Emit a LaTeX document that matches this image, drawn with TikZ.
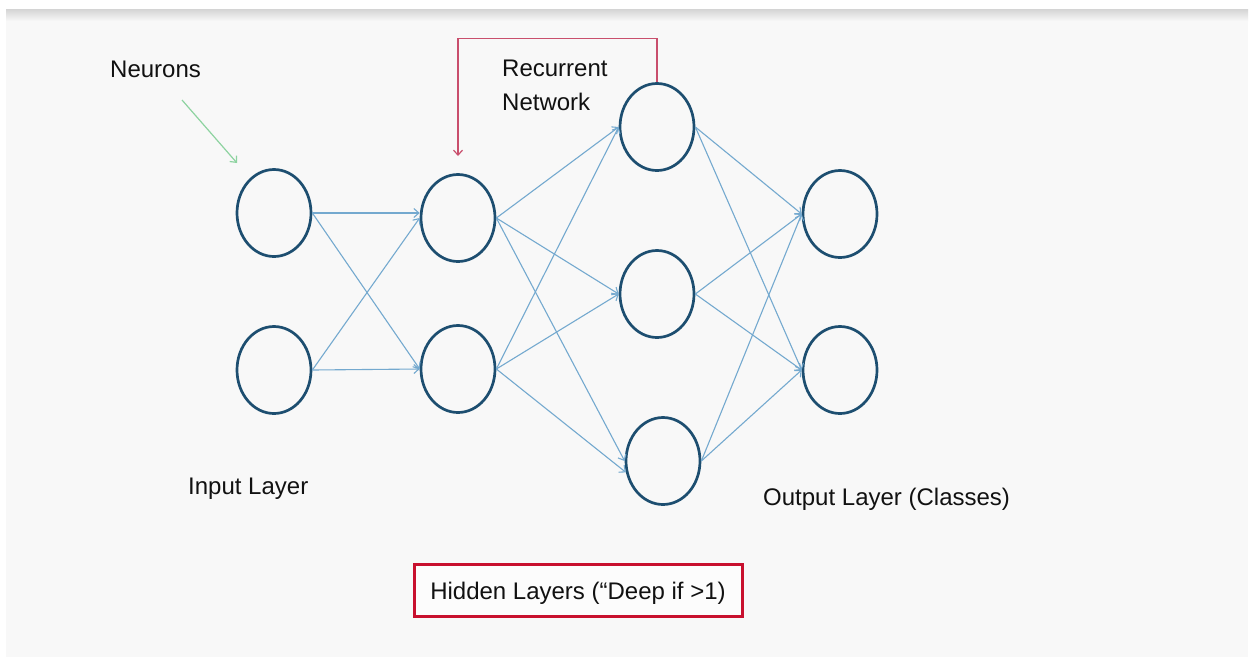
\documentclass[tikz,border=0pt]{standalone}
\usepackage{fontspec}
\setmainfont{Liberation Sans}
\usetikzlibrary{shapes.geometric,arrows.meta}

\definecolor{panel}{HTML}{F8F8F8}
\definecolor{panelshadow}{HTML}{D4D4D4}
\definecolor{neuronblue}{HTML}{1D4E70}
\definecolor{linkblue}{HTML}{74A9CF}
\definecolor{pointgreen}{HTML}{8DD3A0}
\definecolor{loopred}{HTML}{C94F6D}
\definecolor{boxred}{HTML}{C8102E}
\definecolor{labelgray}{HTML}{111111}

\tikzset{
  neuron/.style={ellipse, draw=neuronblue, line width=2.7pt,
    minimum width=74pt, minimum height=87pt, inner sep=0pt},
  link/.style={draw=linkblue, line width=1.1pt,
    -{Straight Barb[length=5pt,width=9pt]}},
  label/.style={font=\fontsize{24}{34}\selectfont, text=labelgray, inner sep=0pt},
  hint/.style={line width=1.2pt, -{Straight Barb[length=5pt,width=9pt]}}
}

\begin{document}
\begin{tikzpicture}[x=1pt,y=-1pt]
  % page and panel with its top shadow
  \useasboundingbox (0,0) rectangle (1252,657);
  \fill[white] (0,0) rectangle (1252,657);
  \fill[panel] (6,9) rectangle (1248,657);
  \shade[top color=panelshadow, bottom color=panel] (6,9) rectangle (1248,21);

  % neurons
  \node[neuron] (i1) at (274,213) {};
  \node[neuron] (i2) at (274,370) {};
  \node[neuron] (h1) at (458,218) {};
  \node[neuron] (h2) at (458,369) {};
  \node[neuron] (k1) at (657,127) {};
  \node[neuron] (k2) at (657,294) {};
  \node[neuron] (k3) at (663,461) {};
  \node[neuron] (o1) at (840,214) {};
  \node[neuron] (o2) at (840,370) {};

  % input layer to first hidden layer
  \draw[link] (i1.east) -- (h1.west |- i1.east);
  \draw[link] (i1.east) -- (h2.west);
  \draw[link] (i2.east) -- (h1.west);
  \draw[link] (i2.east) -- (h2.west);

  % first hidden layer to second hidden layer
  \draw[link] (h1.east) -- (k1.west);
  \draw[link] (h1.east) -- (k2.west);
  \draw[link] (h1.east) -- (k3.west);
  \draw[link] (h2.east) -- (k1.west);
  \draw[link] (h2.east) -- (k2.west);
  \draw[link] (h2.east) -- (k3.197);

  % second hidden layer to output layer
  \foreach \s in {k1,k2,k3}{
    \draw[link] (\s.east) -- (o1.west);
    \draw[link] (\s.east) -- (o2.west);
  }

  % recurrent loop back to the first hidden layer
  \coordinate (loopend) at (458,156);
  \draw[hint, draw=loopred] (k1.north) -- ++(0,-44) -| (loopend);

  % pointer to a neuron
  \coordinate (pointstart) at (182,100);
  \draw[hint, draw=pointgreen] (pointstart) -- (237,163);

  % labels
  \node[label, anchor=base west] (neurons) at (110,77) {Neurons};
  \node[label, anchor=north west, align=left] (recurrent) at (502,60)
    {Recurrent\\Network};
  \node[label, anchor=base west] (inputlabel) at (188,494) {Input Layer};
  \node[label, anchor=base west] (outputlabel) at (763,505) {Output Layer (Classes)};
  \node[label, draw=boxred, line width=3pt, fill=panel!40!white,
        minimum width=328pt, minimum height=52pt,
        text height=20pt, text depth=2pt] (hidden) at (578,590)
    {Hidden Layers (“Deep if >1)};
\end{tikzpicture}
\end{document}
